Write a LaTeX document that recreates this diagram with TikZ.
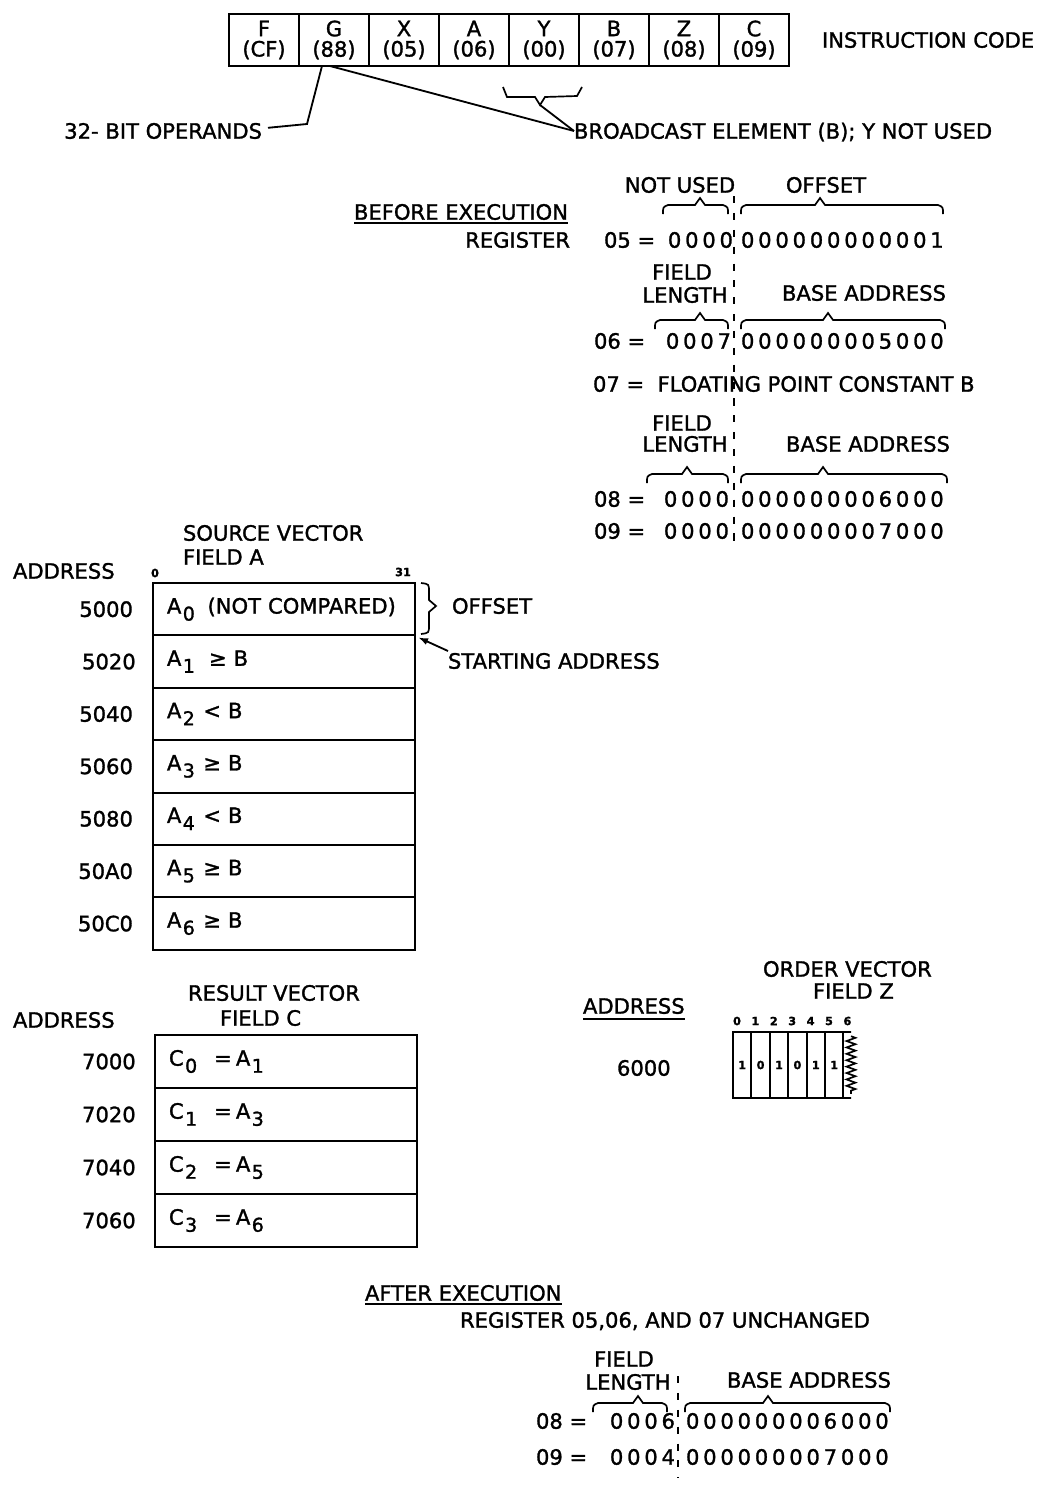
\documentclass[tikz,border=0pt]{standalone}
\usepackage{fontspec}
\setmainfont{DejaVu Sans}[FakeBold=1.4]
\newfontfamily\regdigits[LetterSpace=18,FakeBold=1.4]{DejaVu Sans}
\usepackage{tikz}
\usetikzlibrary{arrows, arrows.meta, decorations.pathmorphing, positioning, calc}
\newcommand{\lett}{\fontsize{15}{17}\selectfont}
\newcommand{\bitfont}{\fontsize{8}{8}\selectfont\bfseries}
\newcommand{\lowsub}[1]{\hspace{1pt}\raisebox{-5pt}{\fontsize{13.5}{13.5}\selectfont #1}}
% graffa dei registri: sinistra, punta, destra, quota
\newcommand{\regbrace}[4]{\draw[brc] (#1,#4+9) .. controls (#1,#4+2) .. (#1+5,#4) -- (#2-5,#4) -- (#2,#4-7) -- (#2+5,#4) -- (#3-5,#4) .. controls (#3,#4+2) .. (#3,#4+9);}
\tikzset{
  >={Latex[length=7pt,width=5pt]},  % frecce piene
  % Testi
  txt/.style={font=\lett,inner sep=0pt,outer sep=0pt,text height=10.9pt,text depth=0pt},
  reg/.style={txt,font=\lett\regdigits},
  bit/.style={font=\bitfont,inner sep=0pt},
  % Celle
  opcell/.style={draw,line width=1.6pt,minimum width=1.75cm,minimum height=1.3cm,align=center,inner sep=0pt,outer sep=0pt,font=\fontsize{15}{14.5}\selectfont},
  vcell/.style={draw,line width=1.4pt,minimum width=6.55cm,minimum height=1.31cm,text width=5.85cm,inner xsep=0.35cm,outer sep=0pt,align=left,font=\lett},
  ccell/.style={vcell,minimum height=1.325cm},
  zcell/.style={draw,line width=1.3pt,minimum width=0.46cm,minimum height=1.65cm,inner sep=0pt,outer sep=0pt,font=\bitfont},
  % Linee
  link/.style={line width=1.3pt},
  brc/.style={line width=1.2pt},
  sep/.style={line width=1.2pt,dash pattern=on 5pt off 7pt},
  zig/.style={line width=1.2pt,decorate,decoration={zigzag,segment length=0.16cm,amplitude=0.11cm}}
}

\begin{document}
\begin{tikzpicture}[x=0.025cm,y=-0.025cm]
  \useasboundingbox (0,0) rectangle (1038,1486);
  \node[opcell] (f) at (264,40) {F\\(CF)};
  \node[opcell] (g) at (334,40) {G\\(88)};
  \node[opcell] (x) at (404,40) {X\\(05)};
  \node[opcell] (a) at (474,40) {A\\(06)};
  \node[opcell] (y) at (544,40) {Y\\(00)};
  \node[opcell] (b) at (614,40) {B\\(07)};
  \node[opcell] (z) at (684,40) {Z\\(08)};
  \node[opcell] (c) at (754,40) {C\\(09)};
  \node[txt,anchor=west] (icode) at (822,40) {INSTRUCTION CODE};
  \node[txt,anchor=east] (ops) at (262,131) {32- BIT OPERANDS};
  \node[txt,anchor=west] (bc) at (574,131) {BROADCAST ELEMENT (B); Y NOT USED};
  \coordinate (ytip) at (540,105);
  \draw[brc] (503,87) -- (507,97) -- (535,97) -- (ytip) -- (545,97) -- (577,96) -- (582,87);
  \draw[link] ([xshift=-0.3cm]g.south) -- (307,124) -- ([shift={(0.15cm,0.08cm)}]ops.east);
  \draw[link] ([xshift=-0.1cm]g.south) -- (bc.west);
  \draw[link] (ytip) -- (bc.west);

  \node[txt,anchor=east] (before) at (568,212) {BEFORE EXECUTION};
  \draw[link] ([yshift=-2.6pt]before.south west) -- ([yshift=-2.6pt]before.south east);
  \node[txt,anchor=east] (regb) at (570,240) {REGISTER};
  \node[txt] (nu) at (680,185) {NOT USED}; \node[txt] (off) at (826,185) {OFFSET};
  \regbrace{663}{700}{728}{205} \regbrace{741}{820}{943}{205}
  \node[txt,anchor=west] (r05) at (604,240) {05 =};
  \node[reg,anchor=east] (r05a) at (733,240) {0000};
  \node[reg,anchor=west] (r05b) at (741,240) {000000000001};
  \node[txt] (fl1) at (682,272) {FIELD}; \node[txt] (le1) at (685,295) {LENGTH};
  \node[txt] (ba1) at (864,293) {BASE ADDRESS};
  \regbrace{655}{700}{728}{320} \regbrace{741}{828}{945}{320}
  \node[txt,anchor=west] (r06) at (594,341) {06 =};
  \node[reg,anchor=east] (r06a) at (731,341) {0007};
  \node[reg,anchor=west] (r06b) at (741,341) {000000005000};
  \node[txt,anchor=west] (r07) at (593,384) {07 = \ FLOATING POINT CONSTANT B};
  \node[txt] (fl2) at (682,423) {FIELD}; \node[txt] (le2) at (685,444) {LENGTH};
  \node[txt] (ba2) at (868,444) {BASE ADDRESS};
  \regbrace{647}{687}{728}{474} \regbrace{741}{823}{947}{474}
  \node[txt,anchor=west] (r08) at (594,499) {08 =};
  \node[reg,anchor=east] (r08a) at (729,499) {0000};
  \node[reg,anchor=west] (r08b) at (741,499) {000000006000};
  \node[txt,anchor=west] (r09) at (594,531) {09 =};
  \node[reg,anchor=east] (r09a) at (729,531) {0000};
  \node[reg,anchor=west] (r09b) at (741,531) {000000007000};
  \draw[sep] (734,196) -- (734,543);

  \node[txt,anchor=west] (srcv) at (183,533) {SOURCE VECTOR};
  \node[txt,anchor=west] (srcf) at (183,557) {FIELD A};
  \node[txt,anchor=west] (saddr) at (13,571) {ADDRESS};
  \node[bit] (b0) at (155,573) {0}; \node[bit] (b31) at (403,572) {31};
  \node[vcell] (a0) at (284,609.2) {A\lowsub{0}\hspace{9pt}(NOT COMPARED)};
  \node[vcell] (a1) at (284,661.6) {A\lowsub{1}\hspace{10pt}≥\hspace{5pt}B};
  \node[vcell] (a2) at (284,714.0) {A\lowsub{2}\hspace{6pt}<\hspace{5pt}B};
  \node[vcell] (a3) at (284,766.4) {A\lowsub{3}\hspace{6pt}≥\hspace{5pt}B};
  \node[vcell] (a4) at (284,818.8) {A\lowsub{4}\hspace{6pt}<\hspace{5pt}B};
  \node[vcell] (a5) at (284,871.2) {A\lowsub{5}\hspace{6pt}≥\hspace{5pt}B};
  \node[vcell] (a6) at (284,923.6) {A\lowsub{6}\hspace{6pt}≥\hspace{5pt}B};
  \node[txt,anchor=east] at ([xshift=-0.5cm]a0.west) {5000};
  \node[txt,anchor=east] at ([xshift=-0.43cm]a1.west) {5020};
  \node[txt,anchor=east] at ([xshift=-0.5cm]a2.west) {5040};
  \node[txt,anchor=east] at ([xshift=-0.5cm]a3.west) {5060};
  \node[txt,anchor=east] at ([xshift=-0.5cm]a4.west) {5080};
  \node[txt,anchor=east] at ([xshift=-0.5cm]a5.west) {50A0};
  \node[txt,anchor=east] at ([xshift=-0.5cm]a6.west) {50C0};
  \draw[brc] (421,583) .. controls (429,584) .. (429,592) -- (429,600) -- (436,606) -- (429,612) -- (429,625) .. controls (429,633) .. (421,634);
  \node[txt,anchor=west] (offs) at (452,606) {OFFSET};
  \node[txt,anchor=west] (sa) at (448,661) {STARTING ADDRESS};
  \draw[->,link] ([yshift=0.25cm]sa.west) -- ([shift={(0.08cm,-0.05cm)}]a0.south east);

  \node[txt,anchor=west] (resv) at (188,993) {RESULT VECTOR};
  \node[txt,anchor=west] (resf) at (220,1018) {FIELD C};
  \node[txt,anchor=west] (raddr) at (13,1020) {ADDRESS};
  \node[ccell] (c0) at (286,1061.5) {C\lowsub{0}\hspace{12pt}=\hspace{3pt}A\lowsub{1}};
  \node[ccell] (c1) at (286,1114.5) {C\lowsub{1}\hspace{12pt}=\hspace{3pt}A\lowsub{3}};
  \node[ccell] (c2) at (286,1167.5) {C\lowsub{2}\hspace{12pt}=\hspace{3pt}A\lowsub{5}};
  \node[ccell] (c3) at (286,1220.5) {C\lowsub{3}\hspace{12pt}=\hspace{3pt}A\lowsub{6}};
  \node[txt,anchor=east] at ([xshift=-0.48cm]c0.west) {7000};
  \node[txt,anchor=east] at ([xshift=-0.48cm]c1.west) {7020};
  \node[txt,anchor=east] at ([xshift=-0.48cm]c2.west) {7040};
  \node[txt,anchor=east] at ([xshift=-0.48cm]c3.west) {7060};

  \node[txt,anchor=west] (oaddr) at (583,1006) {ADDRESS};
  \draw[link] ([yshift=-4pt]oaddr.south west) -- ([yshift=-4pt]oaddr.south east);
  \node[txt,anchor=west] (zaddr) at (617,1068) {6000};
  \node[txt,anchor=west] (ordv) at (763,969) {ORDER VECTOR};
  \node[txt,anchor=west] (ordf) at (813,991) {FIELD Z};
  \node[bit] at (737,1021) {0}; \node[bit] at (755.4,1021) {1}; \node[bit] at (773.8,1021) {2};
  \node[bit] at (792.2,1021) {3}; \node[bit] at (810.6,1021) {4}; \node[bit] at (829,1021) {5};
  \node[bit] at (847.4,1021) {6};
  \node[zcell] (z0) at (742.2,1065) {1}; \node[zcell] (z1) at (760.6,1065) {0};
  \node[zcell] (z2) at (779.0,1065) {1}; \node[zcell] (z3) at (797.4,1065) {0};
  \node[zcell] (z4) at (815.8,1065) {1}; \node[zcell] (z5) at (834.2,1065) {1};
  \coordinate (zt) at (851,1032); \coordinate (zb) at (851,1098);
  \draw[link] (z5.north east) -- (zt); \draw[link] (z5.south east) -- (zb);
  \draw[zig] ([yshift=-3pt]zt) -- ([yshift=3pt]zb);

  \node[txt,anchor=west] (after) at (365,1293) {AFTER EXECUTION};
  \draw[link] ([yshift=-2.6pt]after.south west) -- ([yshift=-2.6pt]after.south east);
  \node[txt,anchor=west] (rega) at (460,1320) {REGISTER 05,06, AND 07 UNCHANGED};
  \node[txt] (fl3) at (624,1359) {FIELD}; \node[txt] (le3) at (628,1382) {LENGTH};
  \node[txt] (ba3) at (809,1380) {BASE ADDRESS};
  \regbrace{593}{638}{667}{1403} \regbrace{685}{768}{890}{1403}
  \node[txt,anchor=west] (s08) at (536,1421) {08 =};
  \node[reg,anchor=east] (s08a) at (675,1421) {0006};
  \node[reg,anchor=west] (s08b) at (686,1421) {000000006000};
  \node[txt,anchor=west] (s09) at (536,1457) {09 =};
  \node[reg,anchor=east] (s09a) at (675,1457) {0004};
  \node[reg,anchor=west] (s09b) at (686,1457) {000000007000};
  \draw[sep] (678,1376) -- (678,1478);
\end{tikzpicture}
\end{document}
